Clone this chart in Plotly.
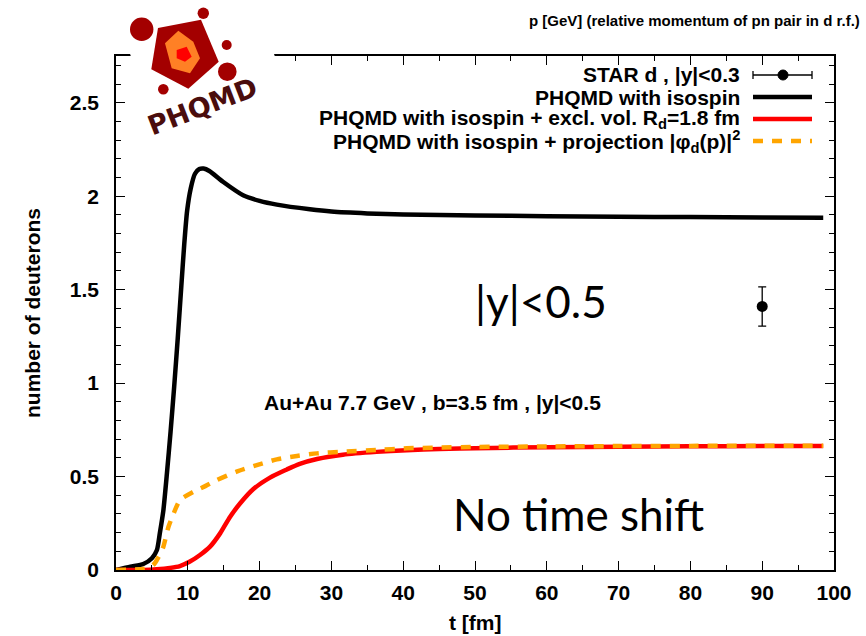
import plotly.graph_objects as go

# ---- data -------------------------------------------------------------
t_iso = [0, 2.0, 3.8, 5.0, 5.7, 6.1, 6.6, 7.1, 7.6, 8.1, 8.6, 9.1, 9.5, 9.9,
         10.4, 11.0, 11.6, 12.2, 13.0, 14.9, 17.7, 20.0, 22.4, 27.0, 30.0,
         35.0, 40.0, 50.0, 60.0, 70.0, 80.0, 90.0, 98.5]
n_iso = [0, 0.018, 0.032, 0.063, 0.107, 0.196, 0.32, 0.52, 0.74, 0.98, 1.24,
         1.52, 1.74, 1.92, 2.04, 2.12, 2.145, 2.148, 2.135, 2.077, 2.005,
         1.975, 1.955, 1.93, 1.918, 1.908, 1.902, 1.897, 1.893, 1.89, 1.888,
         1.886, 1.885]

t_excl = [0, 3.8, 5.7, 7.5, 8.9, 10.3, 11.7, 13.1, 14.5, 15.9, 17.3, 19.1,
          21.45, 23.8, 25.6, 28.0, 31.6, 36.3, 40.5, 45.0, 50.0, 60.0, 70.0,
          80.0, 90.0, 98.5]
n_excl = [0, 0, 0.004, 0.011, 0.021, 0.045, 0.08, 0.125, 0.196, 0.285, 0.357,
          0.432, 0.494, 0.538, 0.568, 0.594, 0.617, 0.632, 0.641, 0.647, 0.652,
          0.657, 0.66, 0.662, 0.663, 0.664]

t_proj = [0, 3.8, 4.8, 5.4, 6.0, 6.6, 7.3, 8.0, 8.9, 10.8, 12.5, 14.0, 16.8,
          19.6, 22.4, 25.2, 28.0, 31.6, 36.3, 40.5, 45.0, 50.0, 60.0, 70.0,
          80.0, 90.0, 98.5]
n_proj = [0, 0.006, 0.015, 0.036, 0.075, 0.125, 0.23, 0.30, 0.374, 0.419,
          0.45, 0.48, 0.526, 0.561, 0.592, 0.61, 0.624, 0.633, 0.642, 0.651,
          0.655, 0.658, 0.661, 0.663, 0.664, 0.665, 0.665]

star_t = [90]
star_n = [1.41]
star_err = [0.105]

legend_labels = [
    "STAR d , |y|<0.3",
    "PHQMD with isospin",
    "PHQMD with isospin + excl. vol. R<sub>d</sub>=1.8 fm",
    "PHQMD with isospin + projection |\u03c6<sub>d</sub>(p)|<sup>2</sup>",
]

FONT = "Liberation Sans"
BLACK, RED, ORANGE = "#000000", "#ff0000", "#ffa500"

# plot-area geometry in pixels (used for decorations placed in paper space)
L, R, T, B = 116, 834, 56, 570


def px(x):
    return (x - L) / (R - L)


def py(y):
    return (B - y) / (B - T)


fig = go.Figure()

fig.add_trace(go.Scatter(x=t_iso, y=n_iso, mode="lines",
                         line=dict(color=BLACK, width=4.5, shape="spline",
                                   smoothing=0.6),
                         showlegend=False))
fig.add_trace(go.Scatter(x=t_excl, y=n_excl, mode="lines",
                         line=dict(color=RED, width=4.5, shape="spline",
                                   smoothing=0.8),
                         showlegend=False))
fig.add_trace(go.Scatter(x=t_proj, y=n_proj, mode="lines",
                         line=dict(color=ORANGE, width=4.5, shape="spline",
                                   smoothing=0.6, dash="10px,9px"),
                         showlegend=False))
fig.add_trace(go.Scatter(x=star_t, y=star_n, mode="markers",
                         marker=dict(color=BLACK, size=11, symbol="circle"),
                         error_y=dict(type="data", array=star_err,
                                      color=BLACK, thickness=1.3, width=4),
                         showlegend=False))

shapes = []
annotations = []

# ---- key (text right-aligned, sample on the right) ----------------------
rows_y = [75, 97, 119, 141]
s0, s1 = 753, 812
for lab, yy in zip(legend_labels, rows_y):
    annotations.append(dict(xref="paper", yref="paper", x=px(742), y=py(yy),
                            xanchor="right", yanchor="middle", showarrow=False,
                            text=lab,
                            font=dict(family=FONT, size=21, color=BLACK,
                                      weight="bold")))
sy = rows_y[0]
shapes.append(dict(type="line", xref="paper", yref="paper",
                   x0=px(s0), x1=px(s1), y0=py(sy), y1=py(sy),
                   line=dict(color=BLACK, width=1.3)))
for xx in (s0, s1):
    shapes.append(dict(type="line", xref="paper", yref="paper",
                       x0=px(xx), x1=px(xx), y0=py(sy - 4), y1=py(sy + 4),
                       line=dict(color=BLACK, width=1.3)))
shapes.append(dict(type="circle", xref="paper", yref="paper",
                   x0=px(783 - 5), x1=px(783 + 5), y0=py(sy - 5), y1=py(sy + 5),
                   fillcolor=BLACK, line=dict(color=BLACK, width=1)))
for yy, col, dash in [(rows_y[1], BLACK, "solid"), (rows_y[2], RED, "solid"),
                      (rows_y[3], ORANGE, "10px,9px")]:
    shapes.append(dict(type="line", xref="paper", yref="paper",
                       x0=px(s0), x1=px(s1), y0=py(yy), y1=py(yy),
                       line=dict(color=col, width=4.5, dash=dash)))

# ---- PHQMD logo ---------------------------------------------------------
def poly(pts):
    d = "M " + " L ".join(f"{px(a):.5f},{py(b):.5f}" for a, b in pts) + " Z"
    return d


shapes.append(dict(type="path", xref="paper", yref="paper", layer="above",
                   path=poly([(120, 25), (250, -15), (290, 100), (160, 140)]),
                   fillcolor="#ffffff", line=dict(width=0)))
shapes.append(dict(type="path", xref="paper", yref="paper", layer="above",
                   path=poly([(158, 28), (201, 19.7), (218.7, 61.7),
                              (188.3, 88.7), (151.3, 69.3)]),
                   fillcolor="#a30000", line=dict(width=0)))
shapes.append(dict(type="path", xref="paper", yref="paper", layer="above",
                   path=poly([(165, 43.3), (178.3, 30.7), (193.3, 41.7),
                              (200, 58.3), (190, 73.3), (171.7, 68.3)]),
                   fillcolor="#ff8025", line=dict(width=0)))
shapes.append(dict(type="path", xref="paper", yref="paper", layer="above",
                   path=poly([(176.7, 50), (186.7, 46.7), (191.7, 56.7),
                              (185, 61.7), (176.7, 58.3)]),
                   fillcolor="#ff0000", line=dict(width=0)))
for cx, cy, r in [(141.7, 29.3, 11.7), (203.3, 13.3, 5.7), (226.7, 45, 5),
                  (227.3, 71.7, 9.3), (163.3, 89.3, 5.3)]:
    shapes.append(dict(type="circle", xref="paper", yref="paper",
                       layer="above",
                       x0=px(cx - r), x1=px(cx + r), y0=py(cy + r),
                       y1=py(cy - r), fillcolor="#a30000",
                       line=dict(width=0)))
annotations.append(dict(xref="paper", yref="paper", x=px(202), y=py(106),
                        xanchor="center", yanchor="middle", showarrow=False,
                        text="PHQMD", textangle=-21,
                        font=dict(family="DejaVu Sans", size=27,
                                  color="#4a0d0d", weight="bold")))

# ---- texts ----------------------------------------------------------------
annotations += [
    dict(xref="paper", yref="paper", x=px(862), y=py(20), xanchor="right",
         yanchor="middle", showarrow=False,
         text="p [GeV] (relative momentum of pn pair in d r.f.)",
         font=dict(family=FONT, size=15, color=BLACK, weight="bold")),
    dict(xref="paper", yref="paper", x=px(541), y=py(301), xanchor="center",
         yanchor="middle", showarrow=False, text="|y|<0.5",
         font=dict(family="Lato", size=44, color=BLACK)),
    dict(xref="paper", yref="paper", x=px(578), y=py(514), xanchor="center",
         yanchor="middle", showarrow=False, text="No time shift",
         font=dict(family="Lato", size=44, color=BLACK)),
    dict(xref="paper", yref="paper", x=px(432), y=py(402), xanchor="center",
         yanchor="middle", showarrow=False,
         text="Au+Au 7.7 GeV , b=3.5 fm , |y|<0.5",
         font=dict(family=FONT, size=21, color=BLACK, weight="bold")),
    dict(xref="paper", yref="paper", x=px(475), y=py(622), xanchor="center",
         yanchor="middle", showarrow=False, text="t [fm]",
         font=dict(family=FONT, size=21, color=BLACK, weight="bold")),
    dict(xref="paper", yref="paper", x=px(32), y=py(313), xanchor="center",
         yanchor="middle", showarrow=False, text="number of deuterons",
         textangle=-90,
         font=dict(family=FONT, size=21, color=BLACK, weight="bold")),
]

axis_common = dict(showline=True, linecolor=BLACK, linewidth=1.5,
                   mirror="ticks", ticks="inside", ticklen=9, tickwidth=1.3,
                   tickcolor=BLACK, showgrid=False, zeroline=False,
                   tickfont=dict(family=FONT, size=21, color=BLACK,
                                 weight="bold"))

fig.update_layout(
    width=866, height=636,
    margin=dict(l=L, r=866 - R, t=T, b=636 - B, pad=0),
    paper_bgcolor="white", plot_bgcolor="white",
    showlegend=False,
    xaxis=dict(range=[0, 100], dtick=10, tick0=0,
               minor=dict(dtick=5, ticks="inside", ticklen=5,
                          tickcolor=BLACK, tickwidth=1.3),
               ticklabelstandoff=3, **axis_common),
    yaxis=dict(range=[0, 2.75], dtick=0.5, tick0=0,
               minor=dict(dtick=0.1, ticks="inside", ticklen=5,
                          tickcolor=BLACK, tickwidth=1.3),
               ticklabelstandoff=11, **axis_common),
    shapes=shapes,
    annotations=annotations,
)

fig.write_html("out.html")
